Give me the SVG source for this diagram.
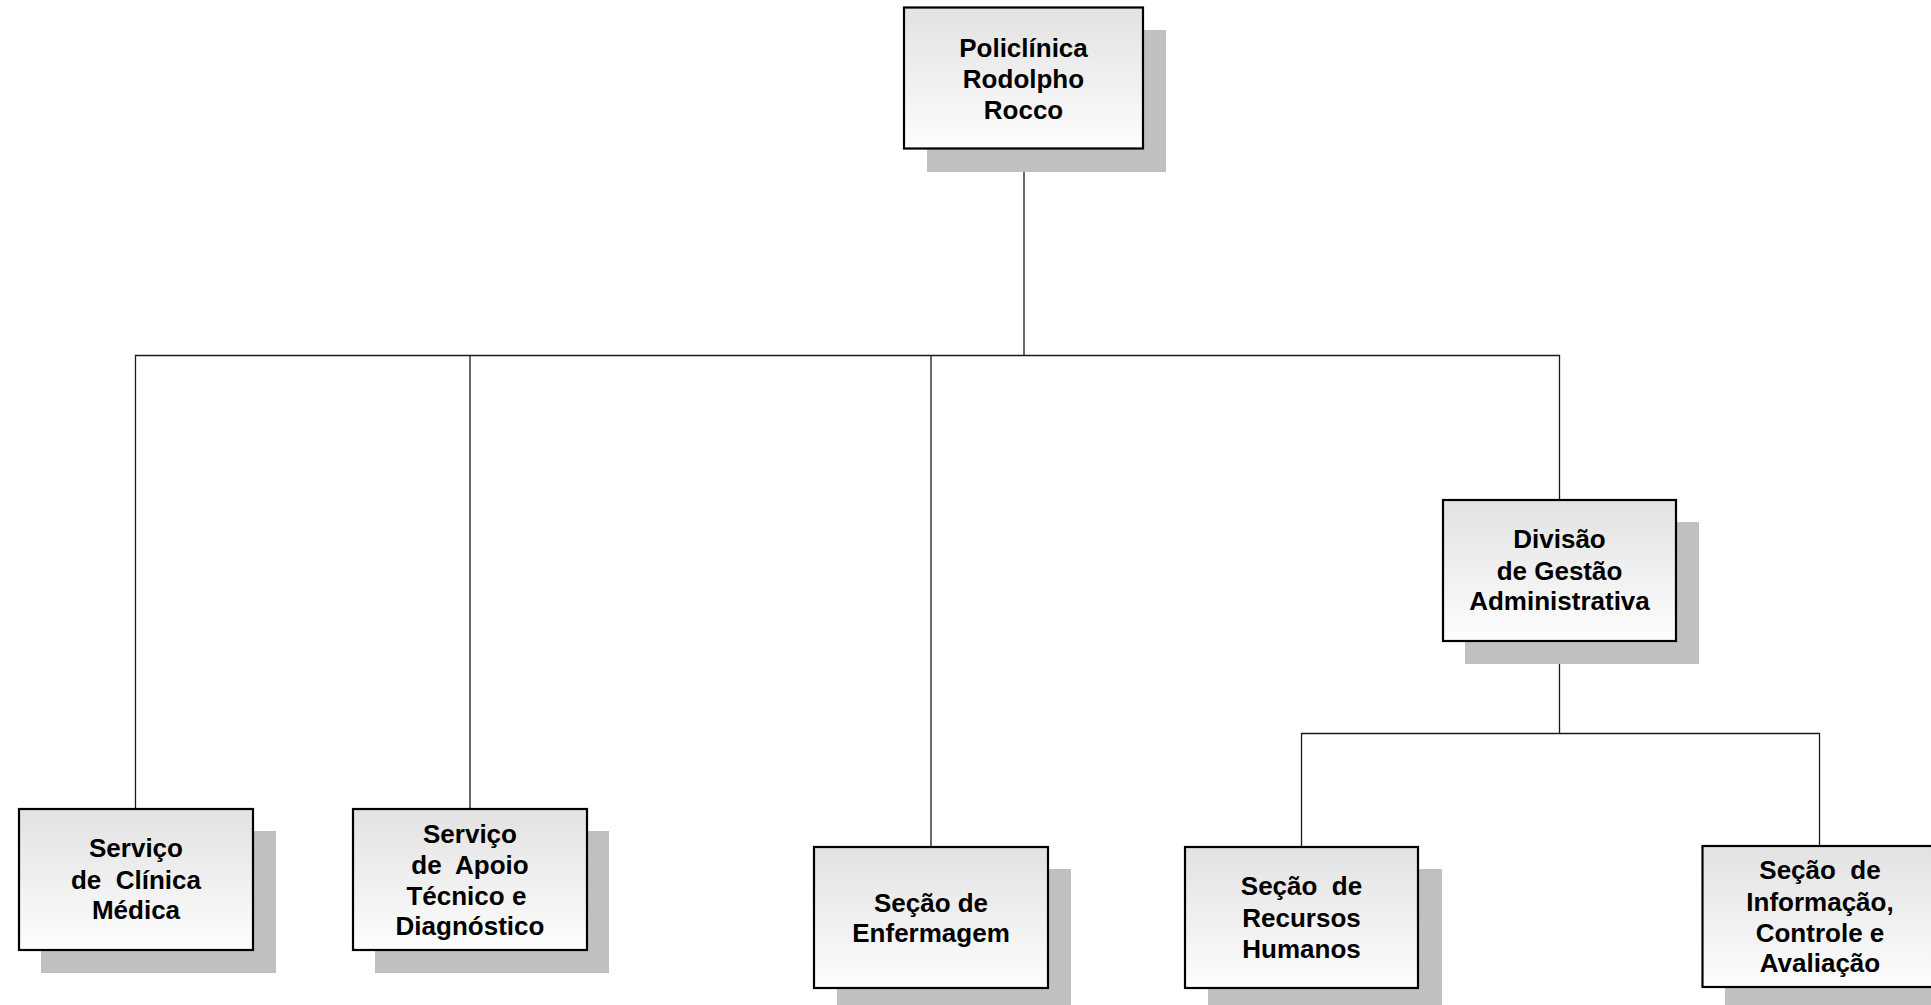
<svg xmlns="http://www.w3.org/2000/svg" width="1931" height="1005" viewBox="0 0 1931 1005">
<defs>
<linearGradient id="g" x1="0" y1="0" x2="0" y2="1">
<stop offset="0" stop-color="#e2e2e2"/>
<stop offset="1" stop-color="#fdfdfd"/>
</linearGradient>
</defs>
<style>
.sh{fill:#c0c0c0;stroke:none}
.bx{fill:url(#g);stroke:#000;stroke-width:2.2}
.t{font-family:"Liberation Sans",Arial,sans-serif;font-weight:bold;font-size:26px;fill:#000;text-anchor:middle;white-space:pre}
.c{stroke:#1a1a1a;stroke-width:1.3;fill:none}
</style>
<rect width="1931" height="1005" fill="#fff"/>
<g id="connectors">
<path class="c" d="M1024 148 V355.5 M135.5 810 V355.5 H1559.5 V500 M470 810 V355.5 M931 847 V355.5"/>
<path class="c" d="M1559.5 641 V733.5 M1301.5 847 V733.5 H1819.5 V846"/>
</g>
<g id="n-policlinica">
<rect class="sh" x="927" y="30" width="239" height="142"/>
<rect class="bx" x="904" y="7.5" width="239" height="141"/>
<text class="t" x="1023.5" y="57">Policlínica</text>
<text class="t" x="1023.5" y="88">Rodolpho</text>
<text class="t" x="1023.5" y="119">Rocco</text>
</g>
<g id="n-clinica">
<rect class="sh" x="41" y="831" width="235" height="142"/>
<rect class="bx" x="19" y="809" width="234" height="141"/>
<text class="t" x="136" y="857">Serviço</text>
<text class="t" x="136" y="889" xml:space="preserve">de  Clínica</text>
<text class="t" x="136" y="919">Médica</text>
</g>
<g id="n-apoio">
<rect class="sh" x="375" y="831" width="234" height="142"/>
<rect class="bx" x="353" y="809" width="234" height="141"/>
<text class="t" x="470" y="843">Serviço</text>
<text class="t" x="470" y="874" xml:space="preserve">de  Apoio</text>
<text class="t" x="470" y="905" xml:space="preserve">Técnico e </text>
<text class="t" x="470" y="935">Diagnóstico</text>
</g>
<g id="n-enfermagem">
<rect class="sh" x="837" y="869" width="234" height="142"/>
<rect class="bx" x="814" y="847" width="234" height="141"/>
<text class="t" x="931" y="912">Seção de</text>
<text class="t" x="931" y="942">Enfermagem</text>
</g>
<g id="n-divisao">
<rect class="sh" x="1465" y="522" width="234" height="142"/>
<rect class="bx" x="1443" y="500" width="233" height="141"/>
<text class="t" x="1559.5" y="548">Divisão</text>
<text class="t" x="1559.5" y="580">de Gestão</text>
<text class="t" x="1559.5" y="610">Administrativa</text>
</g>
<g id="n-rh">
<rect class="sh" x="1208" y="869" width="234" height="142"/>
<rect class="bx" x="1185" y="847" width="233" height="141"/>
<text class="t" x="1301.5" y="895" xml:space="preserve">Seção  de</text>
<text class="t" x="1301.5" y="927">Recursos</text>
<text class="t" x="1301.5" y="958">Humanos</text>
</g>
<g id="n-informacao">
<rect class="sh" x="1725" y="868" width="234" height="142"/>
<rect class="bx" x="1702.5" y="846" width="234" height="141"/>
<text class="t" x="1820" y="879" xml:space="preserve">Seção  de</text>
<text class="t" x="1820" y="911">Informação,</text>
<text class="t" x="1820" y="942">Controle e</text>
<text class="t" x="1820" y="972">Avaliação</text>
</g>
</svg>
